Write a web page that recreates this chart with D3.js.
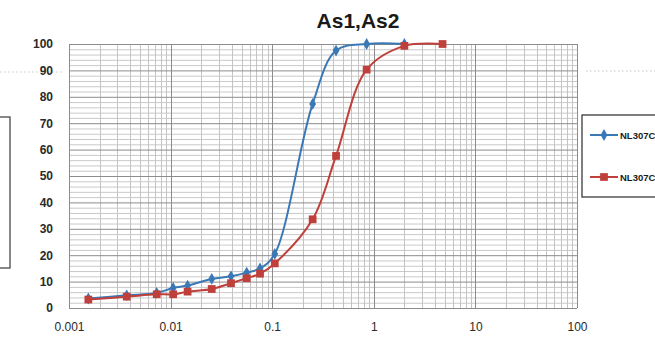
<!DOCTYPE html>
<html>
<head>
<meta charset="utf-8">
<script src="https://cdn.jsdelivr.net/npm/d3@7"></script>
<style>
  html, body { margin: 0; padding: 0; background: #ffffff; overflow: hidden; }
  svg { display: block; }
  .tick text { font-family: "Liberation Sans", Arial, sans-serif; fill: #2a2a2a; }
</style>
</head>
<body>
<svg id="chart" width="655" height="338"></svg>
<script>
// Grain size distribution: percent passing vs particle size (mm), log axis
const chartTitle = "As1,As2";
const seriesNames = ["NL307C", "NL307C"];

const sizesAs1 = [0.00155, 0.0037, 0.0073, 0.0106, 0.0147, 0.0254, 0.0393, 0.0561, 0.0759, 0.106, 0.25, 0.425, 0.85, 2.0];
const passAs1  = [3.6, 4.8, 5.7, 7.6, 8.5, 11.0, 12.0, 13.4, 15.0, 20.5, 77.3, 97.5, 100, 100];

const sizesAs2 = [0.00155, 0.0037, 0.0073, 0.0106, 0.0147, 0.0254, 0.0393, 0.0561, 0.0759, 0.106, 0.25, 0.425, 0.85, 2.0, 4.75];
const passAs2  = [3.2, 4.3, 5.2, 5.2, 6.2, 7.2, 9.4, 11.3, 13.0, 16.9, 33.6, 57.6, 90.3, 99.3, 100];

const xTickValues = [0.001, 0.01, 0.1, 1, 10, 100];
const xTickLabels = ["0.001", "0.01", "0.1", "1", "10", "100"];
const yTickValues = [0, 10, 20, 30, 40, 50, 60, 70, 80, 90, 100];

const colors = ["#3a78b6", "#bf3f3a"];

const svg = d3.select("#chart");
const plot = { left: 69, right: 577, top: 44, bottom: 308 };

const x = d3.scaleLog().domain([0.001, 100]).range([plot.left, plot.right]);
const y = d3.scaleLinear().domain([0, 100]).range([plot.bottom, plot.top]);

// faint dotted rules running across the page margins
svg.append("line").attr("x1", 0).attr("x2", 62).attr("y1", 72).attr("y2", 72)
  .attr("stroke", "#c4c4c4").attr("stroke-width", 1).attr("stroke-dasharray", "1.5,2.5");
svg.append("line").attr("x1", 586).attr("x2", 655).attr("y1", 71).attr("y2", 71)
  .attr("stroke", "#c4c4c4").attr("stroke-width", 1).attr("stroke-dasharray", "1.5,2.5");

// partial legend frame of a neighbouring chart on the left
svg.append("rect").attr("x", -5).attr("y", 117).attr("width", 15).attr("height", 151)
  .attr("fill", "none").attr("stroke", "#3a3a3a").attr("stroke-width", 1.2);

// grid
const grid = svg.append("g");
const vLines = [];
for (let e = -3; e <= 1; e++) {
  for (let k = 1; k <= 9; k++) vLines.push({ v: k * Math.pow(10, e), major: k === 1 });
}
vLines.push({ v: 100, major: true });
const hLines = d3.range(0, 101, 2).map(v => ({ v, major: v % 10 === 0 }));

grid.selectAll("line.hmin").data(hLines.filter(d => !d.major)).join("line")
  .attr("x1", plot.left).attr("x2", plot.right)
  .attr("y1", d => y(d.v) + 0.5).attr("y2", d => y(d.v) + 0.5)
  .attr("stroke", "#c9c9c9").attr("stroke-width", 1);
grid.selectAll("line.vmin").data(vLines.filter(d => !d.major)).join("line")
  .attr("x1", d => Math.round(x(d.v)) + 0.5).attr("x2", d => Math.round(x(d.v)) + 0.5)
  .attr("y1", plot.top).attr("y2", plot.bottom)
  .attr("stroke", "#c4c4c4").attr("stroke-width", 1);
grid.selectAll("line.hmaj").data(hLines.filter(d => d.major)).join("line")
  .attr("x1", plot.left).attr("x2", plot.right)
  .attr("y1", d => y(d.v) + 0.5).attr("y2", d => y(d.v) + 0.5)
  .attr("stroke", "#8c8c8c").attr("stroke-width", 1);
grid.selectAll("line.vmaj").data(vLines.filter(d => d.major)).join("line")
  .attr("x1", d => Math.round(x(d.v)) + 0.5).attr("x2", d => Math.round(x(d.v)) + 0.5)
  .attr("y1", plot.top).attr("y2", plot.bottom)
  .attr("stroke", "#8c8c8c").attr("stroke-width", 1);

// axes (labels only)
const yAxis = svg.append("g").attr("transform", `translate(${plot.left},0)`)
  .call(d3.axisLeft(y).tickValues(yTickValues).tickSize(0).tickPadding(16));
yAxis.select(".domain").remove();
yAxis.selectAll("text").attr("font-size", 12).attr("font-weight", "bold");

const xAxis = svg.append("g").attr("transform", `translate(0,${plot.bottom})`)
  .call(d3.axisBottom(x).tickValues(xTickValues).tickSize(0).tickPadding(14)
    .tickFormat((d, i) => xTickLabels[i]));
xAxis.select(".domain").remove();
xAxis.selectAll("text").attr("font-size", 12);

// title
svg.append("text").attr("x", 358).attr("y", 28).attr("text-anchor", "middle")
  .attr("font-family", "Liberation Sans, Arial, sans-serif").attr("font-weight", "bold")
  .attr("font-size", 21).attr("fill", "#1a1a1a").text(chartTitle);

// series
const series = [
  { name: seriesNames[0], xs: sizesAs1, ys: passAs1, color: colors[0], marker: d3.symbolDiamond, size: 40 },
  { name: seriesNames[1], xs: sizesAs2, ys: passAs2, color: colors[1], marker: d3.symbolSquare, size: 60 }
];

const line = d3.line()
  .x(d => x(d[0])).y(d => y(d[1]))
  .curve(d3.curveCatmullRom.alpha(0.5));

series.forEach(s => {
  const pts = s.xs.map((v, i) => [v, s.ys[i]]);
  svg.append("path").datum(pts).attr("d", line)
    .attr("fill", "none").attr("stroke", s.color).attr("stroke-width", 2);
  svg.append("g").selectAll("path").data(pts).join("path")
    .attr("transform", d => `translate(${x(d[0])},${y(d[1])})`)
    .attr("d", d3.symbol().type(s.marker).size(s.size))
    .attr("fill", s.color);
});

// legend
const lg = svg.append("g");
lg.append("rect").attr("x", 582).attr("y", 115).attr("width", 90).attr("height", 82)
  .attr("fill", "#ffffff").attr("stroke", "#2a2a2a").attr("stroke-width", 1.2);
series.forEach((s, i) => {
  const ly = 135 + i * 42;
  lg.append("line").attr("x1", 590).attr("x2", 618).attr("y1", ly).attr("y2", ly)
    .attr("stroke", s.color).attr("stroke-width", 2);
  lg.append("path").attr("transform", `translate(604,${ly})`)
    .attr("d", d3.symbol().type(s.marker).size(s.size)).attr("fill", s.color);
  lg.append("text").attr("x", 620).attr("y", ly + 3.5)
    .attr("font-family", "Liberation Sans, Arial, sans-serif").attr("font-size", 9.5)
    .attr("font-weight", "bold").attr("fill", "#1a1a1a").text(s.name);
});
</script>
</body>
</html>
